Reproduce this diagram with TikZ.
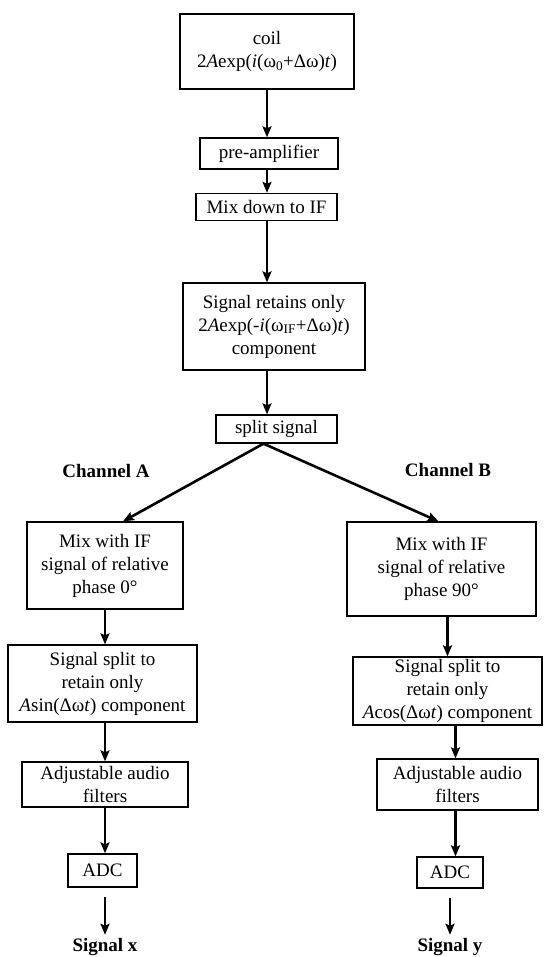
\documentclass[tikz,border=0pt]{standalone}
\usepackage{fontspec}
\setmainfont{Liberation Serif}
\usetikzlibrary{arrows.meta}

\begin{document}
\begin{tikzpicture}[x=1pt,y=-1pt,
		every node/.append style={font=\fontsize{19}{23}\selectfont},
		block/.style={draw,line width=1.3pt,align=center,inner sep=0pt},
		chan/.style={font=\fontsize{19}{23}\selectfont\bfseries}]
	\useasboundingbox (0,0) rectangle (543,957);

	% Hauptkette
	\node[block,minimum width=174pt,minimum height=75pt] (coil) at (267,51.5)
		{coil\\2\textit{A}exp(\textit{i}(ω\textsubscript{0}+Δω)\textit{t})};
	\node[block,minimum width=138pt,minimum height=31pt] (pre) at (269,153.5) {pre-amplifier};
	\node[block,minimum width=141pt,minimum height=27pt] (mix) at (266.5,207) {Mix down to IF};
	\node[block,minimum width=182pt,minimum height=87pt] (retain) at (274,326.5)
		{Signal retains only\\2\textit{A}exp(-\textit{i}(ω\textsubscript{IF}+Δω)\textit{t})\\component};
	\node[block,minimum width=121pt,minimum height=28pt] (split) at (276.5,429) {split signal};

	% Kanalbeschriftungen
	\node[chan] (chA) at (106,471) {Channel A};
	\node[chan] (chB) at (448,470) {Channel B};

	% Kanal A
	\node[block,minimum width=156pt,minimum height=87pt] (mixA) at (105,565.5)
		{Mix with IF\\signal of relative\\phase 0°};
	\node[block,minimum width=189pt,minimum height=77pt] (splitA) at (102.5,683.5)
		{Signal split to\\retain only\\\textit{A}sin(Δω\textit{t}) component};
	\node[block,minimum width=166pt,minimum height=45pt] (filtA) at (105,784.5)
		{Adjustable audio\\filters};
	\node[block,minimum width=69pt,minimum height=33pt] (adcA) at (102.5,870.5) {ADC};
	\node[chan] (sigx) at (105,947) {Signal x};

	% Kanal B
	\node[block,minimum width=189pt,minimum height=94pt] (mixB) at (441.5,569)
		{Mix with IF\\signal of relative\\phase 90°};
	\node[block,minimum width=189pt,minimum height=68pt] (splitB) at (447.5,691)
		{Signal split to\\retain only\\\textit{A}cos(Δω\textit{t}) component};
	\node[block,minimum width=161pt,minimum height=51pt] (filtB) at (457.5,784.5)
		{Adjustable audio\\filters};
	\node[block,minimum width=66pt,minimum height=31pt] (adcB) at (450,872.5) {ADC};
	\node[chan] (sigy) at (450,947) {Signal y};

	% Pfeile zeichnen
	\begin{scope}[>={Stealth[length=11pt,width=9pt,inset=2pt]},line width=2.6pt]
		\draw[->] (coil.south) -- (coil.south |- pre.north);
		\draw[->] (pre.south -| coil) -- (mix.north -| coil);
		\draw[->] (mix.south -| coil) -- (retain.north -| coil);
		\draw[->] (retain.south -| coil) -- (split.north -| coil);

		\coordinate (fork) at ([xshift=-13pt]split.south);
		\draw[->] (fork) -- ([xshift=18pt]mixA.north);
		\draw[->] (fork) -- ([xshift=-3pt]mixB.north);

		\draw[->] (mixA.south) -- (mixA.south |- splitA.north);
		\draw[->] (splitA.south -| mixA) -- (filtA.north);
		\draw[->] (filtA.south) -- (filtA.south |- adcA.north);
		\draw[->,shorten <=9pt] (adcA.south -| filtA) -- (sigx.north);

		\draw[->] ([xshift=6pt]mixB.south) -- ([xshift=6pt]mixB.south |- splitB.north);
		\draw[->] ([xshift=-2pt]filtB.north |- splitB.south) -- ([xshift=-2pt]filtB.north);
		\draw[->] ([xshift=-2pt]filtB.south) -- ([xshift=-2pt]filtB.south |- adcB.north);
		\draw[->,shorten <=9pt] (adcB.south) -- (sigy.north);
	\end{scope}
\end{tikzpicture}
\end{document}
